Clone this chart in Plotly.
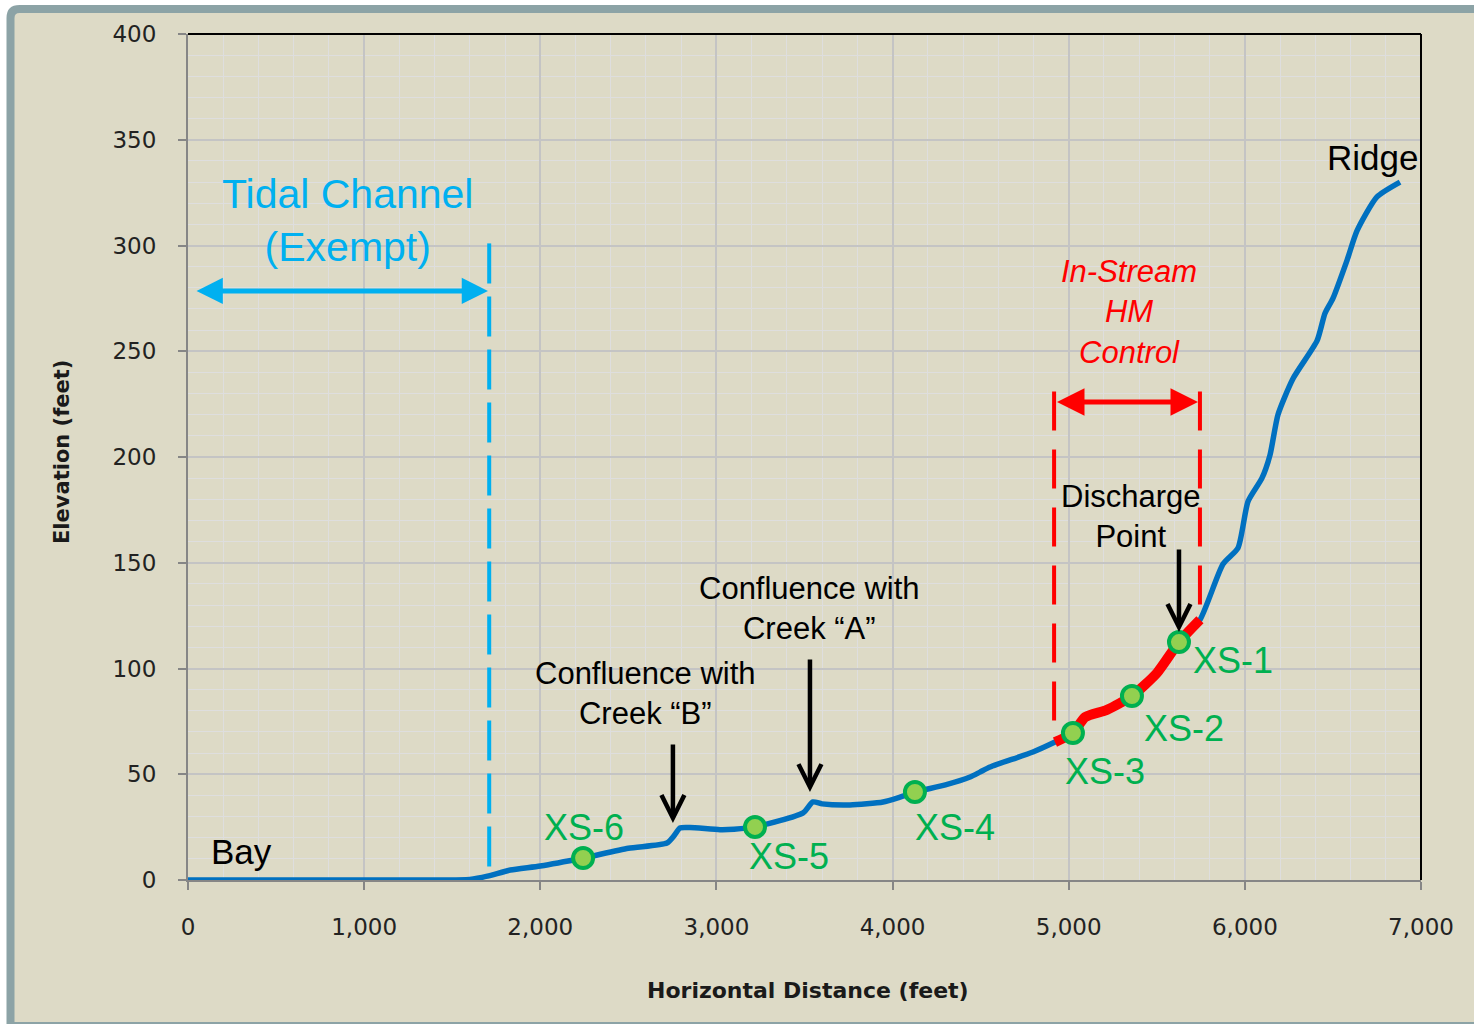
import plotly.graph_objects as go

# Longitudinal stream profile: horizontal distance (ft) vs. elevation (ft)
distance_ft = [0, 500, 1000, 1400, 1600, 1700, 1830, 2000, 2243, 2500, 2719, 2760, 2793,
               2850, 3020, 3100, 3219, 3492, 3548, 3600, 3758, 3946, 4042, 4127, 4300,
               4440, 4496, 4553, 4797, 4922, 5024, 5093, 5217, 5359, 5501, 5626, 5745,
               5876, 5961, 6018, 6097, 6143, 6188, 6273, 6410, 6455, 6500, 6580, 6637,
               6750, 6881]
elevation_ft = [0, 0, 0, 0, 0.3, 1.8, 4.7, 6.6, 10.4, 15.0, 17.5, 21.0, 24.6,
                24.8, 23.8, 24.0, 25.1, 31.7, 36.9, 36.0, 35.5, 36.9, 39.2, 41.6, 45.0,
                48.7, 51.0, 53.4, 60.5, 65.2, 69.5, 77.0, 80.4, 87.0, 97.9, 112.5, 123.0,
                149.4, 157.0, 179.0, 190.0, 201.0, 220.0, 237.0, 255.0, 268.0, 275.0, 293.0, 307.0,
                323.0, 330.0]

# Cross-section stations along the profile
xs_names = ["XS-1", "XS-2", "XS-3", "XS-4", "XS-5", "XS-6"]
xs_distance = [5626, 5359, 5024, 4127, 3219, 2243]
xs_elevation = [112.5, 87.0, 69.5, 41.6, 25.1, 10.4]

# Reach limits (ft)
tidal_limit_ft = 1710
hm_start_ft = 4922
hm_end_ft = 5745

x_ticks = list(range(0, 7001, 1000))
y_ticks = list(range(0, 401, 50))

BLUE = "#0070c0"
CYAN = "#00b0f0"
RED = "#ff0000"
GREEN = "#00b050"
LIGHT_GREEN = "#92d050"
ARIAL = "Liberation Sans, Arial, sans-serif"
TICK_FONT = "DejaVu Sans, Verdana, sans-serif"

# Figure geometry in pixels (plot area 188..1421 x 34..880)
W, H = 1474, 1024
L, R, T, B = 188, 1421, 34, 880


def px_to_paper_x(px):
    return (px - L) / (R - L)


def px_to_paper_y(py):
    return (B - py) / (B - T)


hm_dist = [d for d in distance_ft if hm_start_ft <= d <= hm_end_ft]
hm_elev = [e for d, e in zip(distance_ft, elevation_ft) if hm_start_ft <= d <= hm_end_ft]

fig = go.Figure()
fig.add_trace(go.Scatter(x=distance_ft, y=elevation_ft, mode="lines",
                         line=dict(color=BLUE, width=5.5, shape="spline", smoothing=0.6),
                         hoverinfo="skip", showlegend=False))
fig.add_trace(go.Scatter(x=hm_dist, y=hm_elev, mode="lines",
                         line=dict(color=RED, width=10, shape="spline", smoothing=0.6),
                         hoverinfo="skip", showlegend=False))
fig.add_trace(go.Scatter(x=xs_distance, y=xs_elevation, mode="markers",
                         marker=dict(size=20, color=LIGHT_GREEN,
                                     line=dict(color=GREEN, width=4)),
                         text=xs_names, hoverinfo="text", showlegend=False))

# Station labels (positions relative to each station)
xs_label_pos = {
    "XS-1": (5933, 104),
    "XS-2": (5655, 71.4),
    "XS-3": (5206, 51.5),
    "XS-4": (4354, 25.0),
    "XS-5": (3412, 11.3),
    "XS-6": (2248, 24.6),
}
annotations = []
for name in xs_names:
    lx, ly = xs_label_pos[name]
    annotations.append(dict(x=lx, y=ly, xref="x", yref="y", text=name, showarrow=False,
                            font=dict(family=ARIAL, size=36, color=GREEN)))

# Text labels
annotations += [
    dict(x=903, y=311.6, text="Tidal Channel<br>(Exempt)", showarrow=False,
         font=dict(family=ARIAL, size=41, color=CYAN)),
    dict(x=5342, y=268.6, text="<i>In-Stream<br>HM<br>Control</i>", showarrow=False,
         font=dict(family=ARIAL, size=31, color=RED)),
    dict(x=5354, y=172, text="Discharge<br>Point", showarrow=False,
         font=dict(family=ARIAL, size=31, color="black")),
    dict(x=3531, y=128.6, text="Confluence with<br>Creek “A”", showarrow=False,
         font=dict(family=ARIAL, size=31, color="black")),
    dict(x=2595, y=88, text="Confluence with<br>Creek “B”", showarrow=False,
         font=dict(family=ARIAL, size=31, color="black")),
    dict(x=6722, y=341.4, text="Ridge", showarrow=False,
         font=dict(family=ARIAL, size=35, color="black")),
    dict(x=301, y=13.7, text="Bay", showarrow=False,
         font=dict(family=ARIAL, size=35, color="black")),
]

# Double-headed range arrows
annotations += [
    dict(x=1703, y=278.5, ax=40, ay=278.5, xref="x", yref="y", axref="x", ayref="y",
         text="", showarrow=True, arrowside="end+start", arrowhead=2, startarrowhead=2,
         arrowsize=1.05, startarrowsize=1.05, arrowwidth=5, arrowcolor=CYAN),
    dict(x=5734, y=226, ax=4925, ay=226, xref="x", yref="y", axref="x", ayref="y",
         text="", showarrow=True, arrowside="end+start", arrowhead=2, startarrowhead=2,
         arrowsize=1.1, startarrowsize=1.1, arrowwidth=5, arrowcolor=RED),
]

# Pointer arrows
for (ax_x, tail_y, tip_y) in [(2753, 64.8, 27.0), (3531, 105.0, 41.6), (5626, 157.0, 117.3)]:
    annotations.append(dict(x=ax_x, y=tip_y, ax=ax_x, ay=tail_y, xref="x", yref="y",
                            axref="x", ayref="y", text="", showarrow=True, arrowhead=5,
                            arrowsize=1.0, arrowwidth=4.5, arrowcolor="black"))

# Axis titles
annotations += [
    dict(x=px_to_paper_x(62), y=px_to_paper_y(452), xref="paper", yref="paper",
         xanchor="center", yanchor="middle",
         text="Elevation (feet)", textangle=-90, showarrow=False,
         font=dict(family=TICK_FONT, size=21, color="#1a1a1a", weight="bold")),
    dict(x=px_to_paper_x(808), y=px_to_paper_y(990), xref="paper", yref="paper",
         xanchor="center", yanchor="middle",
         text="Horizontal Distance (feet)", showarrow=False,
         font=dict(family=TICK_FONT, size=22, color="#1a1a1a", weight="bold")),
]

# Outer frame: beige panel with a grey-blue border and rounded top-left corner
fx0, fx1 = px_to_paper_x(10.5), px_to_paper_x(1490)
fy0, fy1 = px_to_paper_y(1026), px_to_paper_y(9)
rx, ry = 9 / (R - L), 9 / (B - T)
frame_path = (f"M{fx0},{fy0} L{fx0},{fy1 - ry} Q{fx0},{fy1} {fx0 + rx},{fy1} "
              f"L{fx1},{fy1} L{fx1},{fy0} Z")

shapes = [
    dict(type="path", path=frame_path, xref="paper", yref="paper", layer="below",
         fillcolor="#dddac6", line=dict(color="#8ca3a6", width=8)),
    # tidal channel limit
    dict(type="line", xref="x", yref="y", x0=tidal_limit_ft, x1=tidal_limit_ft,
         y0=301, y1=4.7, line=dict(color=CYAN, width=4, dash="40px,13px")),
    # in-stream HM control reach limits
    dict(type="line", xref="x", yref="y", x0=4917, x1=4917, y0=231, y1=70,
         line=dict(color=RED, width=4, dash="39px,19px")),
    dict(type="line", xref="x", yref="y", x0=hm_end_ft, x1=hm_end_ft, y0=231, y1=127,
         line=dict(color=RED, width=4, dash="39px,19px")),
    # plot border (top and right)
    dict(type="line", xref="paper", yref="paper", x0=0, x1=1, y0=1, y1=1,
         line=dict(color="black", width=2)),
    dict(type="line", xref="paper", yref="paper", x0=1, x1=1, y0=0, y1=1,
         line=dict(color="black", width=2)),
]

fig.update_layout(
    width=W, height=H,
    margin=dict(l=L, r=W - R, t=T, b=H - B, autoexpand=False),
    paper_bgcolor="white",
    plot_bgcolor="white",
    showlegend=False,
    annotations=annotations,
    shapes=shapes,
    font=dict(family=TICK_FONT, color="#222222"),
)
fig.update_xaxes(
    range=[0, 7000], tickvals=x_ticks, tickformat=",d",
    showline=True, linecolor="#868686", linewidth=2,
    ticks="outside", ticklen=8, tickwidth=2, tickcolor="#868686",
    tickfont=dict(family=TICK_FONT, size=23, color="#222222"),
    ticklabelstandoff=17,
    showgrid=True, gridcolor="#c4c4c4", gridwidth=2,
    minor=dict(dtick=200, showgrid=True, gridcolor="#dedede", gridwidth=1.3),
    zeroline=False, layer="below traces", fixedrange=True,
)
fig.update_yaxes(
    range=[0, 400], tickvals=y_ticks,
    showline=True, linecolor="#868686", linewidth=2,
    ticks="outside", ticklen=8, tickwidth=2, tickcolor="#868686",
    tickfont=dict(family=TICK_FONT, size=23, color="#222222"),
    ticklabelstandoff=17,
    showgrid=True, gridcolor="#c4c4c4", gridwidth=2,
    minor=dict(dtick=10, showgrid=True, gridcolor="#dedede", gridwidth=1.3),
    zeroline=False, layer="below traces", fixedrange=True,
)

fig.write_html("out.html")
